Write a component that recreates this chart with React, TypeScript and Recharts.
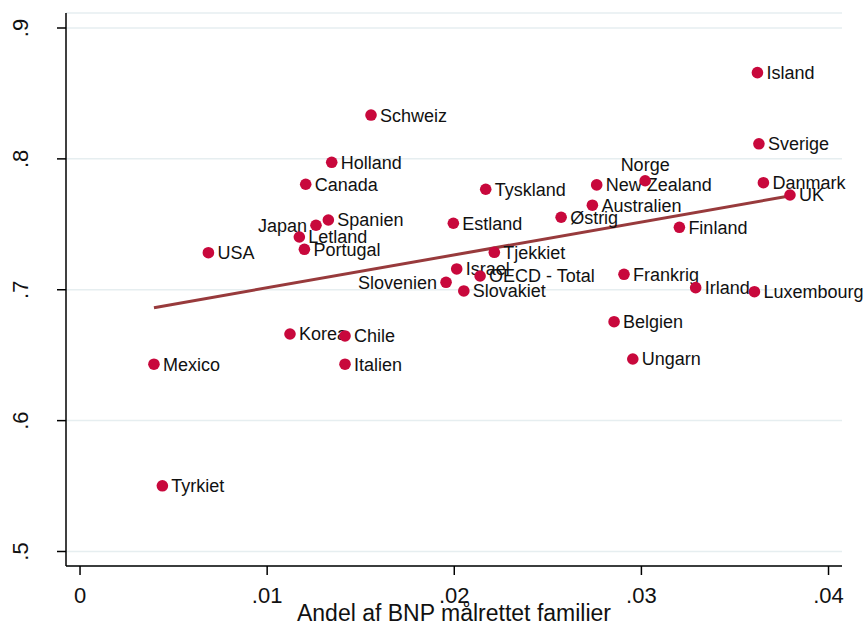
import { ScatterChart, Scatter, XAxis, YAxis, CartesianGrid, ReferenceLine, Label } from "recharts";

// Danish country names, in drawing order
const countries = [
  "Australien", "Belgien", "Canada", "Danmark", "Estland", "Finland", "Frankrig",
  "Holland", "Island", "Israel", "Italien", "Japan", "Korea", "Chile", "Letland",
  "Irland", "Luxembourg", "Mexico", "New Zealand", "Norge", "OECD - Total",
  "Portugal", "Schweiz", "Slovakiet", "Slovenien", "Spanien", "Sverige",
  "Tjekkiet", "Tyrkiet", "Tyskland", "UK", "Ungarn", "USA", "Østrig",
];

// share of GDP targeted at families
const gdpShare = [
  0.02738, 0.02854, 0.01206, 0.03652, 0.01995, 0.03203, 0.02907,
  0.01345, 0.0362, 0.02013, 0.01416, 0.01261, 0.01122, 0.01416, 0.01172,
  0.0329, 0.03604, 0.00395, 0.02761, 0.0302, 0.02138,
  0.01199, 0.01555, 0.02051, 0.01956, 0.01327, 0.03628,
  0.02214, 0.0044, 0.02168, 0.03794, 0.02954, 0.00686, 0.02571,
];

const outcome = [
  0.7646, 0.6756, 0.7806, 0.7818, 0.7508, 0.7477, 0.7118,
  0.7974, 0.8659, 0.7159, 0.6431, 0.7493, 0.6662, 0.6647, 0.7403,
  0.7016, 0.6985, 0.6431, 0.7801, 0.7833, 0.7105,
  0.7309, 0.8335, 0.6991, 0.7057, 0.7533, 0.8115,
  0.7286, 0.5502, 0.7768, 0.7724, 0.6471, 0.7283, 0.7554,
];

// linear fit, endpoints
const fitX = [0.00395, 0.0379];
const fitY = [0.6863, 0.7716];

const xTicks = [0, 0.01, 0.02, 0.03, 0.04];
const xTickLabels = ["0", ".01", ".02", ".03", ".04"];
const yTicks = [0.5, 0.6, 0.7, 0.8, 0.9];
const yTickLabels = [".5", ".6", ".7", ".8", ".9"];

const labelLeft = ["Japan", "Slovenien"];
const labelTop = ["Norge"];

const points = countries.map((name, i) => ({ name, x: gdpShare[i], y: outcome[i] }));

const FONT = "'Liberation Sans', Arial, Helvetica, sans-serif";
const DOT = "#c8083c";

const XTick = (p: any) => (
  <text x={p.x} y={p.y} dy="0.72em" textAnchor="middle" fontSize={22} fill="#111" fontFamily={FONT}>
    {xTickLabels[xTicks.indexOf(p.payload.value)]}
  </text>
);

const YTick = (p: any) => {
  const tx = p.x + 3;
  return (
    <text
      x={tx}
      y={p.y}
      dy="0.36em"
      textAnchor="middle"
      fontSize={22}
      fill="#111"
      fontFamily={FONT}
      transform={`rotate(-90, ${tx}, ${p.y})`}
    >
      {yTickLabels[yTicks.indexOf(p.payload.value)]}
    </text>
  );
};

const PointLabel = (p: any) => {
  const name = p.payload.name;
  if (labelTop.includes(name)) {
    return (
      <text x={p.cx} y={p.cy - 16} dy="0.36em" textAnchor="middle" fontSize={18} fill="#111" fontFamily={FONT}>
        {name}
      </text>
    );
  }
  const left = labelLeft.includes(name);
  return (
    <text
      x={left ? p.cx - 9 : p.cx + 9}
      y={p.cy}
      dy="0.36em"
      textAnchor={left ? "end" : "start"}
      fontSize={18}
      fill="#111"
      fontFamily={FONT}
    >
      {name}
    </text>
  );
};

const PointDot = (p: any) => <circle cx={p.cx} cy={p.cy} r={5.8} fill={DOT} />;

export default function App() {
  return (
    <div style={{ position: "absolute", left: 0, top: 0, background: "#fff" }}>
      <ScatterChart width={866} height={625} margin={{ top: 13, right: 24, left: 0, bottom: 0 }}>
        <CartesianGrid vertical={false} stroke="#e6eef0" strokeWidth={1.5} />
        <XAxis
          type="number"
          dataKey="x"
          domain={[-0.00075, 0.04072]}
          ticks={xTicks}
          interval={0}
          height={59}
          tickSize={9}
          tickMargin={12}
          stroke="#000"
          axisLine={{ stroke: "#000", strokeWidth: 1.5 }}
          tickLine={{ stroke: "#000", strokeWidth: 1.5 }}
          tick={XTick}
        >
          <Label
            value="Andel af BNP målrettet familier"
            position="insideBottom"
            offset={4}
            fontSize={23}
            fill="#111"
            fontFamily={FONT}
          />
        </XAxis>
        <YAxis
          type="number"
          dataKey="y"
          domain={[0.48892, 0.91146]}
          ticks={yTicks}
          interval={0}
          width={66}
          tickSize={9}
          tickMargin={40}
          axisLine={{ stroke: "#000", strokeWidth: 1.5 }}
          tickLine={{ stroke: "#000", strokeWidth: 1.5 }}
          tick={YTick}
        />
        <Scatter data={points} shape={PointLabel} isAnimationActive={false} />
        <Scatter data={points} shape={PointDot} isAnimationActive={false} />
        <ReferenceLine
          segment={[
            { x: fitX[0], y: fitY[0] },
            { x: fitX[1], y: fitY[1] },
          ]}
          stroke="#983a3c"
          strokeWidth={3}
          ifOverflow="visible"
        />
      </ScatterChart>
    </div>
  );
}
